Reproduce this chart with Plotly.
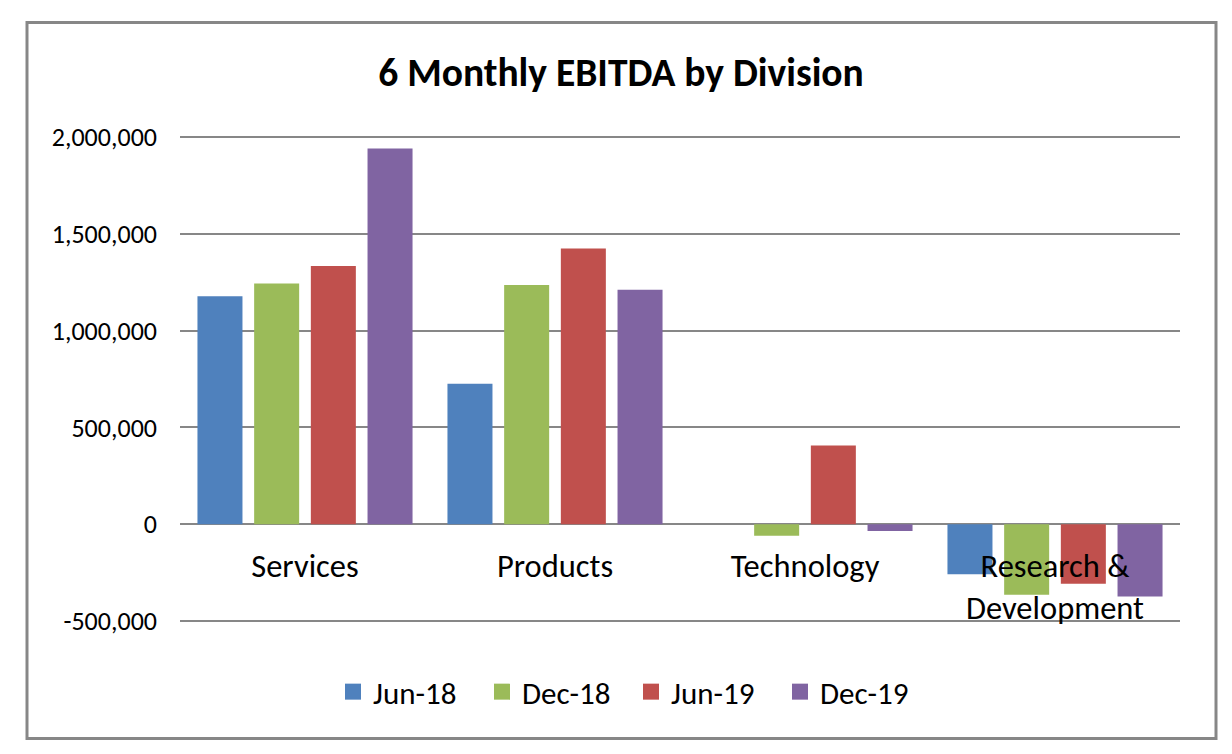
import plotly.graph_objects as go

categories = ["Services", "Products", "Technology", "Research &<br>Development"]
periods = ["Jun-18", "Dec-18", "Jun-19", "Dec-19"]
jun18 = [1178000, 725000, 0, -258000]
dec18 = [1243000, 1235000, -60000, -365000]
jun19 = [1334000, 1424000, 406000, -308000]
dec19 = [1940000, 1211000, -35000, -373000]
series = [jun18, dec18, jun19, dec19]
colors = ["#4F81BD", "#9BBB59", "#C0504D", "#8064A2"]
ytick_vals = [-500000, 0, 500000, 1000000, 1500000, 2000000]
ytick_text = ["-500,000", "0", "500,000", "1,000,000", "1,500,000", "2,000,000"]

FONT = "Calibri, Carlito, Lato, sans-serif"
GRID = "#878787"

fig = go.Figure()
for name, vals, col in zip(periods, series, colors):
    fig.add_trace(go.Bar(x=categories, y=vals, name=name, marker_color=col,
                         marker_line_width=0, showlegend=False))
for name, col in zip(periods, colors):
    fig.add_trace(go.Scatter(x=[None], y=[None], mode="markers", name=name,
                             marker=dict(symbol="square", size=18, color=col)))

# plot area in pixels (2px padding above/below the -500k..2M band so edge gridlines are drawn)
L, R, T, B = 180, 1180, 135, 623
W, H = 1232, 754
ymin, ymax = -500000, 2000000
eps = ((B - T) * (ymax - ymin) / (B - T - 4) - (ymax - ymin)) / 2
y0, y1 = ymin - eps, ymax + eps

def px(x):
    return (x - L) / (R - L)

def py(y):
    return (B - y) / (B - T)

fig.update_layout(
    width=W, height=H,
    margin=dict(l=L, r=W - R, t=T, b=H - B, pad=0),
    paper_bgcolor="white", plot_bgcolor="white",
    font=dict(family=FONT, color="#000000"),
    title=dict(text="<b>6 Monthly EBITDA by Division</b>", x=621 / W, xanchor="center",
               y=1 - 72 / H, yanchor="middle", font=dict(size=39.5, family=FONT, color="#000")),
    barmode="group", bargap=0.093, bargroupgap=0.206,
    legend=dict(orientation="h", x=px(631), xanchor="center", y=py(692), yanchor="middle",
                font=dict(size=31, family=FONT, color="#000"),
                entrywidth=104, entrywidthmode="pixels", itemsizing="trace",
                bgcolor="rgba(0,0,0,0)"),
    xaxis=dict(anchor="free", position=(0 - y0) / (y1 - y0),
               showline=False, showgrid=False, ticks="",
               tickfont=dict(size=32.5, family=FONT, color="#000"), ticklabelstandoff=19,
               fixedrange=True),
    yaxis=dict(range=[y0, y1], tickvals=ytick_vals, ticktext=ytick_text,
               showgrid=True, gridcolor=GRID, gridwidth=2, zeroline=True,
               zerolinecolor=GRID, zerolinewidth=2, showline=False, ticks="",
               tickfont=dict(size=26, family=FONT, color="#000"), ticklabelstandoff=22,
               fixedrange=True),
    shapes=[dict(type="rect", xref="paper", yref="paper",
                 x0=px(27), x1=px(1216), y0=py(738.5), y1=py(22.5),
                 line=dict(color="#878787", width=3), fillcolor="rgba(0,0,0,0)", layer="below")],
)

fig.write_html("out.html", config={"displayModeBar": False},
               post_script="document.body.style.margin='0';document.documentElement.style.margin='0';")
